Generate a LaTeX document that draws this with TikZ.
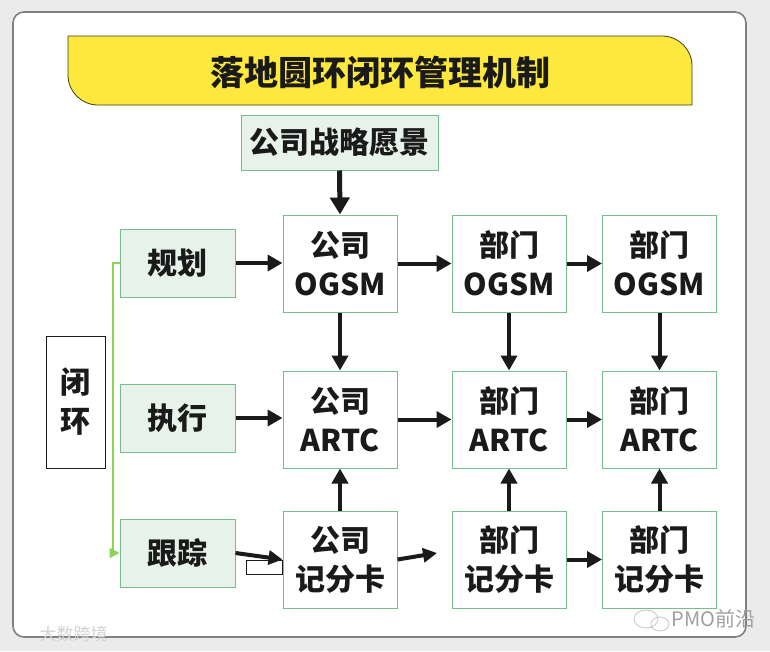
\documentclass[tikz,border=0pt]{standalone}
\usepackage{fontspec}
\setmainfont{Noto Sans CJK SC}[BoldFont={Noto Sans CJK SC Black}]
\usetikzlibrary{arrows.meta}
\definecolor{bgc}{HTML}{EBEBEB}
\definecolor{panelb}{HTML}{808080}
\definecolor{bannery}{HTML}{FDE93E}
\definecolor{bannerb}{HTML}{3F3F1A}
\definecolor{gb}{HTML}{78BD90}
\definecolor{gf}{HTML}{E6F2EA}
\definecolor{lgreen}{HTML}{8DD35A}
\definecolor{ink}{HTML}{1A1A1A}
\tikzset{
  box/.style={draw=gb, line width=1pt, fill=white, align=center, inner sep=0pt,
    font=\fontsize{30}{39}\selectfont\bfseries, text=ink},
  colbox/.style={box, minimum width=114pt, minimum height=97pt},
  leftbox/.style={box, fill=gf, minimum width=115pt, minimum height=68pt},
  arr/.style={draw=ink, line width=4pt, -{Triangle[length=15pt,width=16pt]}},
  arrs/.style={draw=ink, line width=4pt, -{Triangle[length=14pt,width=14pt]}},
}
\begin{document}
\begin{tikzpicture}[x=1pt,y=-1pt]
\useasboundingbox (0,0) rectangle (770,651);
\fill[bgc] (0,0) rectangle (770,651);
\draw[panelb, line width=1.6pt, fill=white, rounded corners=11pt] (13,12) rectangle (746,637);
% banner
\draw[bannerb, line width=0.8pt, fill=bannery] (68,36) -- (662,36) .. controls (678.6,36) and (692,49.4) .. (692,66) -- (692,105) -- (98,105) .. controls (81.4,105) and (68,91.6) .. (68,75) -- cycle;
\node[font=\fontsize{34}{40}\selectfont\bfseries, text=ink] (title) at (380,72) {落地圆环闭环管理机制};
% vision
\node[box, fill=gf, minimum width=197pt, minimum height=55pt] (vision) at (339.5,142.5) {公司战略愿景};
% columns
\node[colbox] (c1a) at (340,263.5) {公司\\OGSM};
\node[colbox] (c2a) at (509,263.5) {部门\\OGSM};
\node[colbox] (c3a) at (659.5,263.5) {部门\\OGSM};
\node[colbox] (c1b) at (340,419.5) {公司\\ARTC};
\node[colbox] (c2b) at (509,419.5) {部门\\ARTC};
\node[colbox] (c3b) at (659.5,419.5) {部门\\ARTC};
\node[colbox] (c1c) at (340,559.5) {公司\\记分卡};
\node[colbox] (c2c) at (509,559.5) {部门\\记分卡};
\node[colbox] (c3c) at (659.5,559.5) {部门\\记分卡};
% left boxes
\node[leftbox] (plan) at (177.5,263) {规划};
\node[leftbox] (exec) at (177.5,418) {执行};
\node[leftbox] (track) at (177.5,553) {跟踪};
\node[box, draw=ink, line width=0.9pt, minimum width=59pt, minimum height=132pt] (loop) at (75.5,402) {闭\\环};
% green loop line
\coordinate (gtop) at (113,263);
\coordinate (gbot) at (113,553);
\draw[lgreen, line width=2pt, -{Triangle[length=10pt,width=10pt]}] (plan.west) -- (gtop) -- (gbot) -- (track.west);
% arrows
\draw[draw=ink, line width=5pt, -{Triangle[length=17pt,width=19pt]}] (vision.south) -- (c1a.north);
\draw[arr] (plan.east) -- (plan.east -| c1a.west);
\draw[arr] (exec.east) -- (exec.east -| c1b.west);
\draw[arrs] (track.east) -- (c1c.west);
\draw[ink, line width=0.8pt] ([xshift=-36pt,yshift=-0.5pt]c1c.west) rectangle ([yshift=-14.5pt]c1c.west);
\draw[arr] (c1a.east) -- (c2a.west);
\draw[arr] (c2a.east) -- (c3a.west);
\draw[arr] (c1b.east) -- (c2b.west);
\draw[arr] (c2b.east) -- (c3b.west);
\coordinate (free) at (437,553);
\draw[arrs] (c1c.east) -- (free);
\draw[arr] (c2c.east) -- (c3c.west);
\draw[arr] (c1a.south) -- (c1b.north);
\draw[arr] (c2a.south) -- (c2b.north);
\draw[arr] (c3a.south) -- (c3b.north);
\draw[arr] (c1c.north) -- (c1b.south);
\draw[arr] (c2c.north) -- (c2b.south);
\draw[arr] (c3c.north) -- (c3b.south);
% watermarks
\draw[gray!45, line width=0.8pt] (646,619) ellipse (12pt and 9pt);
\draw[gray!45, line width=0.8pt] (660,624) ellipse (9pt and 7pt);
\node[anchor=west, text=gray!75, font=\fontsize{20}{22}\selectfont] (wm) at (668,619) {PMO前沿};
\node[anchor=west, text=gray!35, font=\fontsize{17}{20}\selectfont] (wm2) at (36,634) {大数跨境};
\end{tikzpicture}
\end{document}
